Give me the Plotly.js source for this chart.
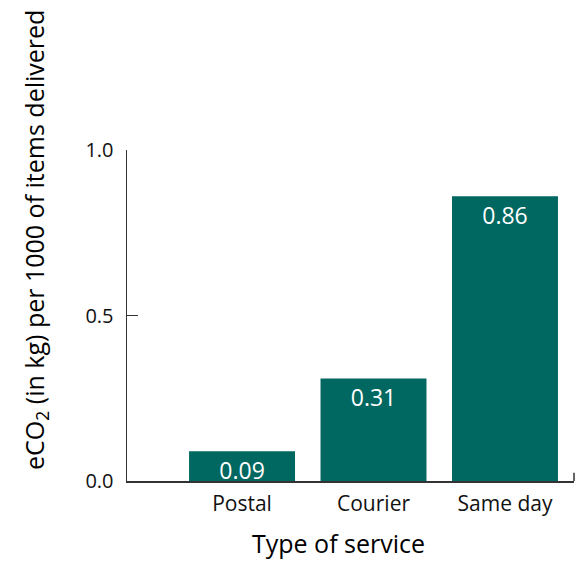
<!DOCTYPE html>
<html>
<head>
<meta charset="utf-8">
<script src="https://cdn.plot.ly/plotly-3.0.1.min.js"></script>
<style>html,body{margin:0;padding:0;background:#fff;}#chart{width:577px;height:561px;}</style>
</head>
<body>
<div id="chart"></div>
<script>
const categories = ["Postal", "Courier", "Same day"];
const values = [0.09, 0.31, 0.86];
const valueLabels = ["0.09", "0.31", "0.86"];
const yTickVals = [0, 0.5, 1.0];
const yTickText = ["0.0", "0.5", "1.0"];

const FONT = "Open Sans, Lato, sans-serif";
const TEAL = "#006761";

const trace = {
  type: "bar",
  x: categories,
  y: values,
  text: valueLabels,
  textposition: "inside",
  insidetextanchor: "end",
  constraintext: "none",
  textfont: {family: FONT, size: 23, color: "#ffffff"},
  marker: {color: TEAL},
  hoverinfo: "none"
};

const layout = {
  width: 577,
  height: 561,
  margin: {l: 127, r: 3, t: 150, b: 80},
  paper_bgcolor: "#ffffff",
  plot_bgcolor: "#ffffff",
  bargap: 0.194,
  showlegend: false,
  font: {family: FONT, color: "#111111"},
  xaxis: {
    type: "category",
    range: [-0.875, 2.525],
    showline: true,
    linecolor: "#333333",
    linewidth: 1.5,
    ticks: "",
    showgrid: false,
    zeroline: false,
    tickfont: {family: FONT, size: 21, color: "#111111"},
    ticklabelstandoff: 3
  },
  yaxis: {
    range: [0, 1.0],
    showline: true,
    linecolor: "#333333",
    linewidth: 1.5,
    ticks: "inside",
    ticklen: 11,
    tickwidth: 1.5,
    tickcolor: "#333333",
    tickvals: yTickVals,
    ticktext: yTickText,
    showgrid: false,
    zeroline: false,
    tickfont: {family: FONT, size: 20, color: "#111111"},
    ticklabelstandoff: 8
  },
  shapes: [
    {type: "line", xref: "paper", yref: "paper", x0: 1, x1: 1, y0: 0, y1: 0.025,
     line: {color: "#333333", width: 1.5}}
  ],
  annotations: [
    {text: "eCO<sub>2</sub> (in kg) per 1000 of items delivered", xref: "paper", yref: "paper",
     x: -0.206, y: 0.728, textangle: -90, showarrow: false, xanchor: "center", yanchor: "middle",
     font: {family: FONT, size: 25, color: "#000000"}},
    {text: "Type of service", xref: "paper", yref: "paper",
     x: 0.474, y: -0.187, showarrow: false, xanchor: "center", yanchor: "middle",
     font: {family: FONT, size: 25, color: "#000000"}}
  ]
};

Plotly.newPlot("chart", [trace], layout, {displayModeBar: false, staticPlot: true});
</script>
</body>
</html>
